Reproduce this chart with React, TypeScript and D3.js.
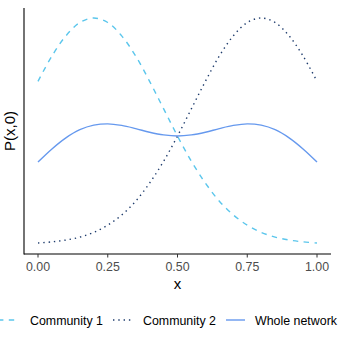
import * as d3 from "d3";
import { useEffect, useRef } from "react";

// x positions and the three series
const xs = [0, 0.05, 0.1, 0.15, 0.2, 0.25, 0.3, 0.35, 0.4, 0.45, 0.5, 0.55, 0.6, 0.65, 0.7, 0.75, 0.8, 0.85, 0.9, 0.95, 1];
const community1 = [0.72, 0.832, 0.921, 0.98, 1.0, 0.98, 0.921, 0.832, 0.72, 0.599, 0.478, 0.366, 0.27, 0.19, 0.129, 0.084, 0.052, 0.031, 0.018, 0.01, 0.005];
const community2 = [0.005, 0.01, 0.018, 0.031, 0.052, 0.084, 0.129, 0.19, 0.27, 0.366, 0.478, 0.599, 0.72, 0.832, 0.921, 0.98, 1.0, 0.98, 0.921, 0.832, 0.72];
const wholeNetwork = [0.363, 0.421, 0.47, 0.506, 0.526, 0.532, 0.525, 0.511, 0.495, 0.483, 0.478, 0.483, 0.495, 0.511, 0.525, 0.532, 0.526, 0.506, 0.47, 0.421, 0.363];
const xTicks = [0, 0.25, 0.5, 0.75, 1];
const seriesNames = ["Community 1", "Community 2", "Whole network"];

const colors = ["#5bc6ec", "#1d3b6c", "#6699ee"];
const dashes = ["5.4,5.4", "1.4,3.9", null];

const App = () => {
	const ref = useRef(null);

	useEffect(() => {
		const svg = d3.select(ref.current);
		svg.selectAll("*").remove();

		const panel = { left: 24, right: 331, top: 8, bottom: 254 };

		const x = d3.scaleLinear().domain([0, 1]).range([38, 317]);
		const yMin = d3.min(community1.concat(community2));
		const yMax = d3.max(community1.concat(community2));
		const y = d3.scaleLinear().domain([yMin, yMax]).range([243, 18]);

		const series = [community1, community2, wholeNetwork];
		const line = d3.line()
			.x((d) => x(d[0]))
			.y((d) => y(d[1]))
			.curve(d3.curveCatmullRom);

		series.forEach((vals, i) => {
			svg.append("path")
				.attr("d", line(xs.map((v, j) => [v, vals[j]])))
				.attr("fill", "none")
				.attr("stroke", colors[i])
				.attr("stroke-width", 1.4)
				.attr("stroke-dasharray", dashes[i]);
		});

		// axes lines
		svg.append("line")
			.attr("x1", panel.left).attr("x2", panel.left)
			.attr("y1", panel.top).attr("y2", panel.bottom + 0.5)
			.attr("stroke", "black").attr("stroke-width", 1.1);
		svg.append("line")
			.attr("x1", panel.left).attr("x2", panel.right)
			.attr("y1", panel.bottom).attr("y2", panel.bottom)
			.attr("stroke", "black").attr("stroke-width", 1.1);

		const g = svg.append("g");
		xTicks.forEach((t) => {
			g.append("line")
				.attr("x1", x(t)).attr("x2", x(t))
				.attr("y1", panel.bottom).attr("y2", panel.bottom + 3.5)
				.attr("stroke", "#333").attr("stroke-width", 1);
			g.append("text")
				.attr("x", x(t))
				.attr("y", panel.bottom + 17)
				.attr("text-anchor", "middle")
				.attr("font-size", 12.4)
				.attr("fill", "#4d4d4d")
				.text(d3.format(".2f")(t));
		});

		svg.append("text")
			.attr("x", (panel.left + panel.right) / 2)
			.attr("y", 289)
			.attr("text-anchor", "middle")
			.attr("font-size", 15)
			.text("x");

		svg.append("text")
			.attr("transform", `translate(15, ${(panel.top + panel.bottom) / 2}) rotate(-90)`)
			.attr("text-anchor", "middle")
			.attr("font-size", 15)
			.text("P(x,0)");

		// legend
		const keyStarts = [-2, 113, 226];
		const textStarts = [30, 143, 255];
		const ly = 320;
		seriesNames.forEach((name, i) => {
			svg.append("line")
				.attr("x1", keyStarts[i]).attr("x2", keyStarts[i] + 19)
				.attr("y1", ly).attr("y2", ly)
				.attr("stroke", colors[i])
				.attr("stroke-width", 1.4)
				.attr("stroke-dasharray", dashes[i]);
			svg.append("text")
				.attr("x", textStarts[i])
				.attr("y", ly + 4.5)
				.attr("font-size", 12.4)
				.text(name);
		});
	}, []);

	return (
		<svg ref={ref} width={339} height={339}
			style={{ position: "absolute", left: 0, top: 0, fontFamily: "Liberation Sans, Arial, sans-serif" }}>
		</svg>
	);
};

export default App;
